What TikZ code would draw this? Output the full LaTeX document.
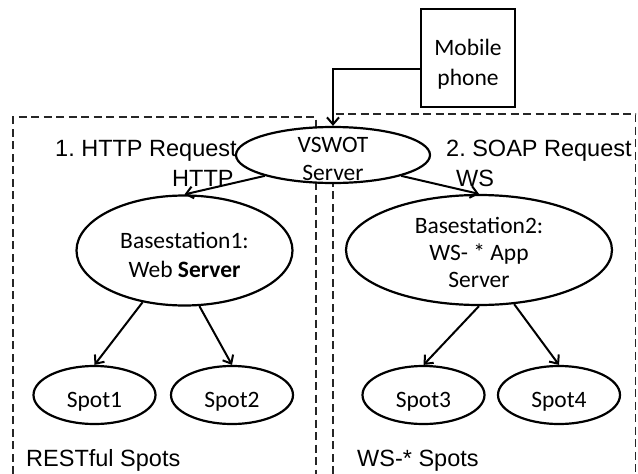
\documentclass[tikz,border=0pt]{standalone}
\usepackage{fontspec}
\setmainfont{Liberation Sans}
\newfontfamily\calibrifont{Carlito}
\usetikzlibrary{arrows.meta,calc,shapes.geometric}
\frenchspacing

\begin{document}
\begin{tikzpicture}[x=1pt,y=-1pt,
  every node/.style={inner sep=0pt},
  bubble/.style={ellipse, draw, line width=2.2pt, fill=white},
  box/.style={rectangle, draw, line width=2.2pt, fill=white},
  txt/.style={align=center},
  lbl/.style={font=\fontsize{23.5}{28}\selectfont, anchor=base west},
  link/.style={line width=2pt, -{Straight Barb[length=7pt,width=12pt]}},
  zone/.style={line width=1.2pt, black!85, dash pattern=on 8pt off 4.5pt}]

\useasboundingbox (0,0) rectangle (638,474);

% dashed zones (open at the bottom)
\draw[zone] (13,474) -- (13,117) -- (316,117) -- (316,474);
\draw[zone] (333,474) -- (333,114) -- (635.5,114) -- (635.5,474);

% mobile client
\node[box, minimum width=94pt, minimum height=98pt,
  label={[txt, yshift=-6.2pt, font=\calibrifont\fontsize{23.5}{29.3}\selectfont]center:{Mobile\\phone}}]
  (mobile) at (468,58) {};

% central server
\node[bubble, minimum width=194pt, minimum height=56pt,
  label={[txt, yshift=-3.7pt, font=\calibrifont\fontsize{23.5}{27.7}\selectfont]center:{VSWOT\\Server}}]
  (vswot) at (333,155) {};

% base stations
\node[bubble, minimum width=216pt, minimum height=110pt,
  label={[txt, yshift=-4.4pt, font=\calibrifont\fontsize{23.5}{29}\selectfont]center:{Basestation1:\\Web \textbf{Server}}}]
  (bs1) at (184.5,250.5) {};
\node[bubble, minimum width=266pt, minimum height=110pt,
  label={[txt, yshift=-2.6pt, font=\calibrifont\fontsize{23.5}{26.7}\selectfont]center:{Basestation2:\\WS- * App\\Server}}]
  (bs2) at (479,250) {};

% spots
\tikzset{spot/.style={bubble, minimum width=122pt, minimum height=58pt}}
\tikzset{spotlbl/.style={yshift=-6.5pt, font=\calibrifont\fontsize{23.5}{28}\selectfont}}
\node[spot, label={[spotlbl]center:Spot1}] (s1) at (94.5,395) {};
\node[spot, label={[spotlbl]center:Spot2}] (s2) at (232,395) {};
\node[spot, label={[spotlbl]center:Spot3}] (s3) at (423.5,395) {};
\node[spot, label={[spotlbl]center:Spot4}] (s4) at (559,395) {};

% connectors
\draw[link] ($(mobile.west)+(0,11)$) -| (vswot.north);
\draw[link] (vswot.197) -- (bs1.north);
\draw[link] (vswot.343) -- (bs2.north);
\draw[link] (bs1.231) -- (s1.north);
\draw[link] (bs1.285) -- (s2.north);
\draw[link] (bs2.south) -- (s3.north);
\draw[link] (bs2.303) -- (s4.north);

% zone and request labels
\node[lbl] (req1) at (55,156.7) {1. HTTP Request};
\node[lbl] (http) at (172,186.7) {HTTP};
\node[lbl] (req2) at (446,156.7) {2. SOAP Request};
\node[lbl] (ws) at (456,186) {WS};
\node[lbl] (rest) at (26,466.7) {RESTful Spots};
\node[lbl] (wsspots) at (357,466.7) {WS-* Spots};
\end{tikzpicture}
\end{document}
